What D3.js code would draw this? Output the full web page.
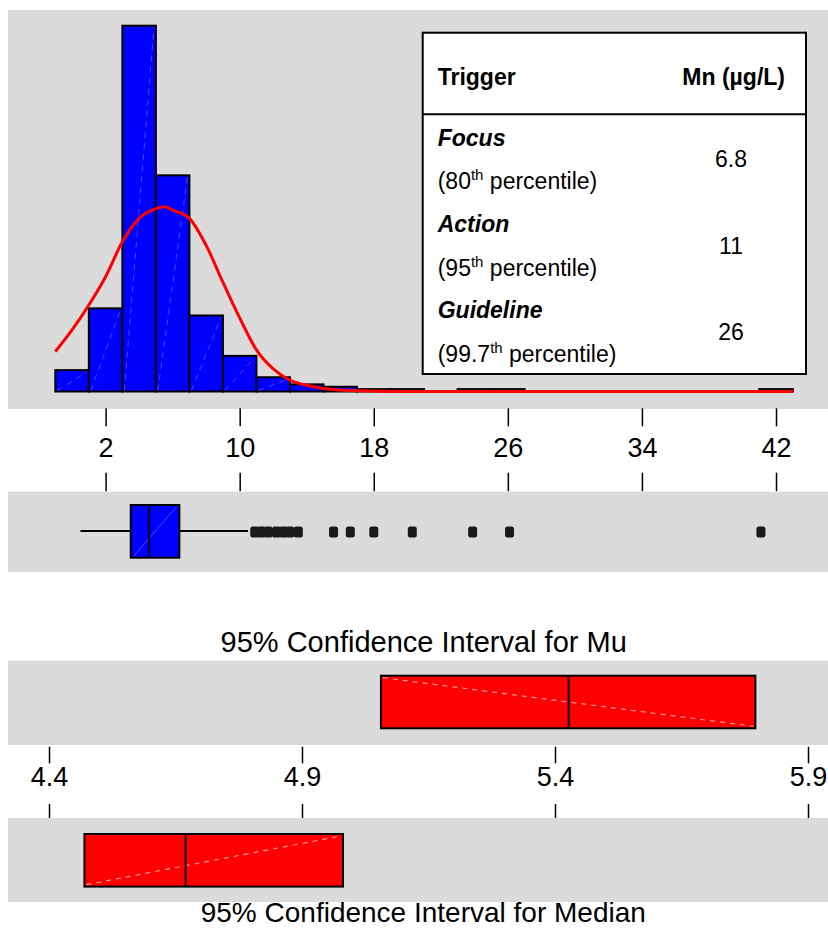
<!DOCTYPE html>
<html>
<head>
<meta charset="utf-8">
<script src="https://cdn.jsdelivr.net/npm/d3@7"></script>
<style>
  body { margin: 0; background: #fff; }
  svg { display: block; font-family: "Liberation Sans", Arial, sans-serif; }
</style>
</head>
<body>
<svg id="chart" width="828" height="929"></svg>
<script>
// histogram (bins of width 2, centred on even values)
const binMids = [0, 2, 4, 6, 8, 10, 12, 14, 16, 18, 20, 22, 24, 26, 42];
const binCounts = [9, 35, 154, 91, 32, 15, 6, 3, 2, 1, 1, 0, 1, 1, 1];
const binWidth = 2;

// fitted normal curve (counts per bin)
const fitX = [-1, 0, 1, 2, 3, 4, 5, 5.5, 6, 7, 8, 9, 10, 11, 12, 13, 14, 15, 17, 20, 25, 30, 35, 43];
const fitY = [16.8, 25.9, 36.4, 48.3, 63, 72.9, 77, 77.8, 76.4, 72.9, 61.5, 46, 31, 17.5, 9.5, 4.8, 2.6, 1.3, 0.3, 0.05, 0, 0, 0, 0];

const axisTicks = [2, 10, 18, 26, 34, 42];

// boxplot
const boxWhiskers = [0.5, 10.5];
const boxQuartiles = [3.5, 4.6, 6.4];
const outliers = [10.9, 11.3, 11.7, 12.2, 12.6, 13.0, 13.5, 15.6, 16.6, 18.0, 20.3, 23.9, 26.1, 41.1];

// confidence intervals [low, centre, high]
const ciMu = [5.056, 5.427, 5.796];
const ciMedian = [4.47, 4.67, 4.981];
const ciTicks = [4.4, 4.9, 5.4, 5.9];

// trigger table
const triggerNames = ["Focus", "Action", "Guideline"];
const triggerPct = ["80", "95", "99.7"];
const triggerMn = ["6.8", "11", "26"];

const svg = d3.select("#chart");
const grey = "#dbdbdb";

var x = d3.scaleLinear().domain([2, 42]).range([105.6, 776]);
var y = d3.scaleLinear().domain([0, 154]).range([391.5, 25.7]);
var xc = d3.scaleLinear().domain([4.4, 5.9]).range([49, 808]);

// panels
[[10, 409], [491.7, 572], [660.5, 745], [818, 902]].forEach(function (p) {
  svg.append("rect")
    .attr("x", 8).attr("y", p[0])
    .attr("width", 820).attr("height", p[1] - p[0])
    .attr("fill", grey);
});

// histogram bars
var bars = binMids.map((m, i) => ({ mid: m, count: binCounts[i] })).filter(d => d.count > 0);
svg.selectAll("rect.bar")
  .data(bars)
  .enter()
  .append("rect")
  .attr("class", "bar")
  .attr("x", d => x(d.mid - binWidth / 2))
  .attr("width", d => x(d.mid + binWidth / 2) - x(d.mid - binWidth / 2))
  .attr("y", d => y(d.count))
  .attr("height", d => y(0) - y(d.count))
  .attr("fill", "#0000ff")
  .attr("stroke", "#000")
  .attr("stroke-width", 2);

// faint diagonal hatch in the bars
svg.selectAll("line.hatch")
  .data(bars.filter(d => d.count > 4))
  .enter()
  .append("line")
  .attr("x1", d => x(d.mid - binWidth / 2) + 2)
  .attr("y1", y(0) - 1)
  .attr("x2", d => x(d.mid + binWidth / 2) - 2)
  .attr("y2", d => y(d.count) + 2)
  .attr("stroke", "#7f7fff")
  .attr("stroke-width", 1)
  .attr("stroke-dasharray", "6,5")
  .attr("opacity", 0.55);

// normal fit
var fit = fitX.map((v, i) => ({ v: v, c: fitY[i] }));
svg.append("path")
  .datum(fit)
  .attr("fill", "none")
  .attr("stroke", "#ff0000")
  .attr("stroke-width", 3)
  .attr("d", d3.line().x(d => x(d.v)).y(d => y(d.c)).curve(d3.curveMonotoneX));

// table
var tbl = svg.append("g");
tbl.append("rect")
  .attr("x", 422.7).attr("y", 32.7)
  .attr("width", 383.3).attr("height", 341.3)
  .attr("fill", "#fff").attr("stroke", "#000").attr("stroke-width", 2);
tbl.append("line")
  .attr("x1", 422.7).attr("x2", 806)
  .attr("y1", 114.3).attr("y2", 114.3)
  .attr("stroke", "#000").attr("stroke-width", 2);
tbl.append("text").attr("x", 437.7).attr("y", 85)
  .style("font-size", "23px").style("font-weight", "bold").text("Trigger");
tbl.append("text").attr("x", 785).attr("y", 85).attr("text-anchor", "end")
  .style("font-size", "23px").style("font-weight", "bold").text("Mn (µg/L)");

triggerNames.forEach(function (name, i) {
  var top = 145.7 + i * 86.3;
  tbl.append("text").attr("x", 437.7).attr("y", top)
    .style("font-size", "23px").style("font-weight", "bold").style("font-style", "italic")
    .text(name);
  var t = tbl.append("text").attr("x", 437.7).attr("y", top + 43.6).style("font-size", "23px");
  t.append("tspan").text("(" + triggerPct[i]);
  t.append("tspan").attr("dy", -9).style("font-size", "15px").text("th");
  t.append("tspan").attr("dy", 9).text(" percentile)");
  tbl.append("text").attr("x", 731).attr("y", top + 21.5).attr("text-anchor", "middle")
    .style("font-size", "23px").text(triggerMn[i]);
});

// main axis: ticks above and below the labels
function styleAxis(g) {
  g.select(".domain").remove();
  g.selectAll(".tick line").attr("stroke", "#000").attr("stroke-width", 1.5);
  g.selectAll(".tick text").attr("fill", "#000").style("font-size", "27px")
    .style("font-family", "'Liberation Sans', Arial, sans-serif");
}
svg.append("g")
  .attr("transform", "translate(0,408.3)")
  .call(d3.axisBottom(x).tickValues(axisTicks).tickSize(18).tickPadding(12))
  .call(styleAxis);
svg.append("g")
  .attr("transform", "translate(0,472.7)")
  .call(d3.axisBottom(x).tickValues(axisTicks).tickSize(18.5).tickFormat(""))
  .call(styleAxis);

// boxplot
var by = 531, bh = 52.7;
svg.append("line")
  .attr("x1", x(boxWhiskers[0])).attr("x2", x(boxQuartiles[0]))
  .attr("y1", by).attr("y2", by)
  .attr("stroke", "#000").attr("stroke-width", 2);
svg.append("line")
  .attr("x1", x(boxQuartiles[2])).attr("x2", x(boxWhiskers[1]))
  .attr("y1", by).attr("y2", by)
  .attr("stroke", "#000").attr("stroke-width", 2);
svg.append("rect")
  .attr("x", x(boxQuartiles[0])).attr("y", by - 26)
  .attr("width", x(boxQuartiles[2]) - x(boxQuartiles[0])).attr("height", bh)
  .attr("fill", "#0000ff").attr("stroke", "#000").attr("stroke-width", 2);
svg.append("line")
  .attr("x1", x(boxQuartiles[0]) + 3).attr("y1", by + 25)
  .attr("x2", x(boxQuartiles[2]) - 3).attr("y2", by - 24)
  .attr("stroke", "#7f7fff").attr("stroke-width", 1).attr("opacity", 0.6);
svg.append("line")
  .attr("x1", x(boxQuartiles[1])).attr("x2", x(boxQuartiles[1]))
  .attr("y1", by - 26).attr("y2", by + bh - 26)
  .attr("stroke", "#000").attr("stroke-width", 2);
svg.selectAll("rect.outlier")
  .data(outliers)
  .enter()
  .append("rect")
  .attr("class", "outlier")
  .attr("x", d => x(d) - 4.5)
  .attr("y", by - 4.5)
  .attr("width", 9).attr("height", 11)
  .attr("rx", 2.5)
  .attr("fill", "#1a1a1a");

// confidence intervals
function ciBox(ci, top, down) {
  var h = 52.6;
  svg.append("rect")
    .attr("x", xc(ci[0])).attr("y", top)
    .attr("width", xc(ci[2]) - xc(ci[0])).attr("height", h)
    .attr("fill", "#ff0000").attr("stroke", "#000").attr("stroke-width", 2);
  svg.append("line")
    .attr("x1", xc(ci[0]) + 2).attr("y1", down ? top + 2 : top + h - 2)
    .attr("x2", xc(ci[2]) - 2).attr("y2", down ? top + h - 2 : top + 2)
    .attr("stroke", "#ff9a9a").attr("stroke-width", 1.2).attr("stroke-dasharray", "5,5");
  svg.append("line")
    .attr("x1", xc(ci[1])).attr("x2", xc(ci[1]))
    .attr("y1", top).attr("y2", top + h)
    .attr("stroke", "#000").attr("stroke-width", 2);
}
ciBox(ciMu, 675.7, true);
ciBox(ciMedian, 834, false);

svg.append("g")
  .attr("transform", "translate(0,746.7)")
  .call(d3.axisBottom(xc).tickValues(ciTicks).tickSize(16.6).tickPadding(3.5).tickFormat(d3.format(".1f")))
  .call(styleAxis);
svg.append("g")
  .attr("transform", "translate(0,804)")
  .call(d3.axisBottom(xc).tickValues(ciTicks).tickSize(14).tickFormat(""))
  .call(styleAxis);

svg.append("text")
  .attr("x", 423.7).attr("y", 651.7).attr("text-anchor", "middle")
  .style("font-size", "29px").text("95% Confidence Interval for Mu");
svg.append("text")
  .attr("x", 423.3).attr("y", 921.5).attr("text-anchor", "middle")
  .style("font-size", "28px").text("95% Confidence Interval for Median");
</script>
</body>
</html>
